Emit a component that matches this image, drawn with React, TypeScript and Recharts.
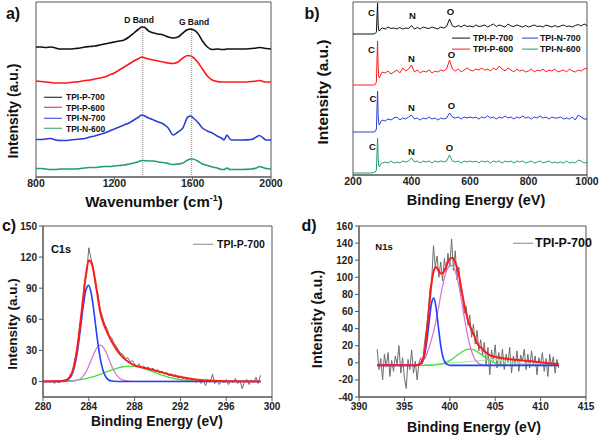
import React from 'react'
import { LineChart, Line, XAxis, YAxis, ReferenceArea, ReferenceLine } from 'recharts'

// ---- a) Raman ----
const ramanWavenumber = [800, 825, 850, 875, 900, 925, 950, 975, 1000, 1025, 1050, 1075, 1100, 1125, 1150, 1175, 1200, 1225, 1250, 1275, 1300, 1325, 1340, 1350, 1375, 1400, 1425, 1450, 1475, 1500, 1525, 1550, 1575, 1590, 1600, 1625, 1650, 1675, 1700, 1725, 1750, 1760, 1775, 1790, 1800, 1850, 1900, 1925, 1940, 1960, 1975, 2000]
const ramanP700 = [130, 130, 129.5, 130, 129, 128, 128, 128, 128.5, 129, 130, 130.5, 131, 132, 133, 134, 135, 136, 137, 140, 144, 148, 150, 150, 146, 144, 143, 142, 140, 139, 140, 144, 147.5, 148, 147.5, 144, 136, 130, 127.5, 128, 127.5, 127.5, 128, 128, 128, 128, 128.5, 129, 129.5, 129, 128.5, 128]
const ramanP600 = [96, 95.5, 95, 94.5, 94, 94, 94, 94.5, 95, 95.5, 96.5, 97, 98, 99, 100, 102, 104, 107, 110, 113, 116, 118.5, 120, 119.5, 118, 117, 116, 115, 114, 113.5, 115, 119, 121.5, 121, 120, 115, 108, 101, 97, 95.5, 95, 95, 95, 95, 95, 95, 95.5, 96, 96.5, 95.5, 95, 95]
const ramanN700 = [37.5, 37.5, 38, 38.5, 37, 36.5, 36.5, 37, 37.5, 38, 38.5, 40, 41, 42.5, 44, 46, 48, 50, 52, 54, 57, 60, 62, 61.5, 59, 57, 55, 53, 49, 42, 45, 49, 60, 61, 59.5, 55, 49, 46, 44, 41, 38.5, 37, 42, 38, 37, 37, 37.5, 40, 41.5, 39, 37, 37]
const ramanN600 = [8.5, 8.5, 8, 7.5, 7.5, 8, 8, 8, 8, 8.5, 9, 9.5, 9.5, 10, 10.5, 10.5, 11, 11.5, 12, 13, 14, 15.5, 16.5, 16.5, 16, 16, 15, 14.5, 13.5, 12.5, 13, 14, 17, 18, 18, 16, 13, 11.5, 10, 9, 7.5, 7.5, 9, 7.5, 7.5, 7.5, 8, 9, 10.5, 9.5, 8.5, 8]
const ramanTicks = [800, 1200, 1600, 2000]

// ---- b) XPS survey ----
const surveyEnergy = [200, 220, 240, 260, 270, 276, 280, 282, 284, 286, 288, 290, 295, 300,
  310, 320, 330, 340, 350, 360, 370, 380, 390, 400,
  410, 420, 430, 440, 450, 460, 470, 480, 490, 500,
  510, 520, 530, 540, 550, 560, 570, 580, 590, 600,
  610, 620, 630, 640, 650, 660, 670, 680, 690, 700,
  710, 720, 730, 740, 750, 760, 770, 780, 790, 800,
  810, 820, 830, 840, 850, 860, 870, 880, 890, 900,
  910, 920, 930, 940, 950, 960, 970, 980, 990, 1000]
const surveyP700 = [141, 141, 141, 141, 141, 141.5, 143, 158, 172, 150, 145, 144, 146, 147,
  146, 148, 146.5, 147, 146, 147.5, 146, 147, 146.5, 149.5,
  146, 147.5, 146, 148, 147, 146.5, 148, 147, 146, 148,
  147, 148.5, 156, 149, 148, 149.5, 148, 150, 148.5, 149,
  148, 150, 148.5, 149, 150, 148, 149.5, 151, 148.5, 150,
  149, 148, 151, 149, 148.5, 150, 149, 148, 149.5, 148,
  149, 150, 148.5, 149, 148, 150, 149, 148, 149.5, 148,
  149, 150, 148.5, 149, 148, 149.5, 150.5, 149, 151, 149.5]
const surveyP600 = [90, 90, 90, 90, 90, 90.5, 93, 115, 134, 108, 99, 97, 100, 103,
  102, 104, 101, 103, 105, 102, 107, 104, 106, 110,
  103, 105, 102, 104, 103, 105, 102, 104, 103, 105,
  104, 106, 115, 106, 104, 106, 103, 105, 107, 105,
  104, 106, 105, 107, 105, 106, 104, 107, 105, 109,
  106, 104, 107, 105, 103, 106, 104, 105, 103, 104,
  106, 103, 105, 104, 106, 103, 105, 104, 106, 103,
  104, 105, 103, 106, 104, 103, 105, 104, 106, 107]
const surveyN700 = [43, 43, 43, 43, 43, 43.5, 46, 66, 84, 60, 52, 50, 53, 55,
  54, 56, 55, 57, 58, 55, 57, 56, 58, 60,
  56, 57, 55, 57, 56, 58, 56, 57, 55, 57,
  56, 57, 62, 58, 57, 58, 56, 58, 57, 58,
  57, 58, 56, 58, 57, 59, 57, 58, 56, 58,
  57, 59, 57, 58, 56, 58, 57, 59, 57, 58,
  56, 58, 57, 59, 57, 58, 56, 58, 57, 57,
  58, 56, 57, 56, 58, 55, 60, 58, 56, 56]
const surveyN600 = [2, 2, 2, 2, 2.5, 3, 5, 22, 37, 16, 10, 8, 11, 12,
  13, 12, 14, 12, 13, 12, 14, 13, 14, 17,
  13, 14, 12, 14, 13, 14, 12, 14, 13, 14,
  13, 14, 20, 14, 13, 14, 12, 14, 13, 14,
  13, 14, 12, 14, 13, 14, 12, 14, 13, 14,
  12, 14, 13, 14, 12, 14, 13, 14, 12, 13,
  14, 12, 13, 14, 12, 13, 14, 12, 13, 12,
  13, 12, 14, 12, 13, 12, 15, 14, 12, 13]
const surveyTicks = [200, 400, 600, 800, 1000]

// ---- c) C1s ----
const c1sFitEnergy = [280, 281, 281.5, 282, 282.5, 282.75, 283, 283.25, 283.5, 283.75, 284, 284.25, 284.5, 284.75, 285, 285.25, 285.5, 285.75, 286, 286.5, 287, 287.5, 288, 288.5, 289, 290, 291, 292, 293, 294, 296, 299]
const c1sEnvelope = [0, 0.1, 0.3, 1.2, 7.5, 17, 33, 55, 80, 103, 117, 114, 101, 84, 67, 57, 50, 44, 38.5, 29.5, 23, 18.5, 15.5, 14, 12.8, 10, 6.8, 4.3, 2.4, 1.2, 0.3, 0]
const c1sPeak1 = [0, 0, 0, 0.7, 6.1, 14.3, 28.7, 49.2, 71.5, 88.3, 92.7, 82.7, 62.8, 40.5, 22.2, 10.3, 4.1, 1.4, 0.4, 0, 0, 0, 0, 0, 0, 0, 0, 0, 0, 0, 0, 0]
const c1sPeak2 = [0, 0, 0, 0, 0.2, 0.5, 1.2, 2.6, 5.2, 9.3, 15, 21.7, 28.3, 33.2, 35, 33.2, 28.3, 21.7, 15, 5.2, 1.2, 0.2, 0, 0, 0, 0, 0, 0, 0, 0, 0, 0]
const c1sPeak3 = [0, 0.1, 0.2, 0.4, 0.8, 1, 1.35, 1.75, 2.2, 2.8, 3.4, 4.2, 5, 5.9, 6.9, 7.9, 9, 10, 11.1, 12.9, 14.2, 14.8, 14.5, 13.5, 11.8, 7.7, 4, 1.65, 0.54, 0.14, 0, 0]
const c1sRawEnergy = [280.6, 280.8, 281.0, 281.2, 281.4, 281.6, 281.8, 282.0, 282.2, 282.4,
  282.6, 282.8, 283.0, 283.2, 283.4, 283.6, 283.8, 284.0, 284.2, 284.4,
  284.6, 284.8, 285.0, 285.2, 285.4, 285.6, 285.8, 286.0, 286.2, 286.4,
  286.6, 286.8, 287.0, 287.2, 287.4, 287.6, 287.8, 288.0, 288.2, 288.4,
  288.6, 288.8, 289.0, 289.2, 289.4, 289.6, 289.8, 290.0, 290.2, 290.4,
  290.6, 290.8, 291.0, 291.2, 291.4, 291.6, 291.8, 292.0, 292.2, 292.4,
  292.6, 292.8, 293.0, 293.2, 293.4, 293.6, 293.8, 294.0, 294.2, 294.4,
  294.6, 294.8, 295.0, 295.2, 295.4, 295.6, 295.8, 296.0, 296.2, 296.4,
  296.6, 296.8, 297.0, 297.2, 297.4, 297.6, 297.8, 298.0, 298.2, 298.4,
  298.6, 298.8, 299.0]
const c1sRaw = [-1, 1, -2, 0.5, -1.5, 1, -0.5, 2, 1.5, 7,
  9, 22, 31, 53, 67, 93, 103, 129, 118, 110,
  91, 84, 69, 62, 55, 51, 44, 42, 37, 34,
  30, 27, 26, 22, 23, 19, 20, 17, 14, 17,
  13, 15, 12, 14, 10.5, 13, 9.5, 11.5, 8, 10,
  7, 9, 5.5, 7.5, 4.5, 6.5, 3, 5.5, 2.5, 4,
  1, 3.5, 0.5, 2, -1, 1.5, -2, 0.5, -4, 2,
  -1, 7, -2, 0.5, -3, 1, -1.5, 2, -3, 0.5,
  -1, 3, -2, 1, -7, 0, 2, -3, 1.5, -1,
  4, -2, 6]
const c1sXTicks = [280, 284, 288, 292, 296, 300]
const c1sYTicks = [0, 30, 60, 90, 120, 150]

// ---- d) N1s ----
const n1sFitEnergy = [392, 394, 396, 396.5, 397, 397.25, 397.5, 397.75, 398, 398.25, 398.5, 398.75, 399, 399.25, 399.5, 399.75, 400, 400.25, 400.5, 400.75, 401, 401.25, 401.5, 401.75, 402, 402.25, 402.5, 402.75, 403, 403.5, 404, 404.5, 405, 405.5, 406, 407, 408, 409, 410, 411, 412]
const n1sEnvelope = [-3, -3, -3, -2.5, 3, 14, 40, 68, 94, 108, 112, 108, 104.5, 105, 110, 117, 121.5, 123, 120, 113, 103, 88, 73, 60, 50, 42, 36, 30, 23, 17, 12, 8.5, 7, 6, 5, 3.8, 2.8, 1.7, 0.5, -0.5, -1.5]
const n1sPeak1 = [-3, -3, -3, -2.7, 2, 10.9, 27.8, 50.6, 70.2, 75.8, 63.5, 41.2, 20.1, 6.5, 0.1, -2.2, -3, -3, -3, -3, -3, -3, -3, -3, -3, -3, -3, -3, -3, -3, -3, -3, -3, -3, -3, -3, -3, -3, -3, -3, -3]
const n1sPeak2 = [-3, -3, -3, -2, 1.5, 5, 11, 19, 28, 38, 50, 64, 79, 92, 103, 110, 114, 114, 110, 102, 90, 75, 59, 44, 30, 19, 10.5, 4.5, 1, -2, -3, -3, -3, -3, -3, -3, -3, -3, -3, -3, -3]
const n1sPeak3 = [-3, -3, -3, -3, -3, -3, -3, -2.9, -2.8, -2.7, -2.4, -2.1, -1.6, -0.9, 0, 1.1, 2.5, 4.2, 6.1, 8.2, 10.2, 12.1, 13.8, 15, 15.8, 16, 15.6, 14.6, 13.1, 9.3, 5.3, 1.9, -0.4, -1.8, -2.5, -3, -3, -3, -3, -3, -3]
const n1sPeak4 = [-3, -3, -2.8, -2.6, -2.4, -2.3, -2.2, -2, -1.9, -1.7, -1.5, -1.3, -1.1, -0.9, -0.7, -0.5, -0.3, 0, 0.2, 0.4, 0.6, 0.8, 1, 1.2, 1.4, 1.6, 1.8, 2, 2.3, 2.8, 3.4, 3.8, 3.6, 2.8, 1.6, 0, -0.8, -1.2, -1.4, -1.6, -1.8]
const n1sRawEnergy = [392.0, 392.2, 392.4, 392.6, 392.8, 393.0, 393.2, 393.4, 393.6, 393.8,
  394.0, 394.2, 394.4, 394.6, 394.8, 395.0, 395.2, 395.4, 395.6, 395.8,
  396.0, 396.2, 396.4, 396.6, 396.8, 397.0, 397.2, 397.4, 397.6, 397.8,
  398.0, 398.2, 398.4, 398.6, 398.8, 399.0, 399.2, 399.4, 399.6, 399.8,
  400.0, 400.2, 400.4, 400.6, 400.8, 401.0, 401.2, 401.4, 401.6, 401.8,
  402.0, 402.2, 402.4, 402.6, 402.8, 403.0, 403.2, 403.4, 403.6, 403.8,
  404.0, 404.2, 404.4, 404.6, 404.8, 405.0, 405.2, 405.4, 405.6, 405.8,
  406.0, 406.2, 406.4, 406.6, 406.8, 407.0, 407.2, 407.4, 407.6, 407.8,
  408.0, 408.2, 408.4, 408.6, 408.8, 409.0, 409.2, 409.4, 409.6, 409.8,
  410.0, 410.2, 410.4, 410.6, 410.8, 411.0, 411.2, 411.4, 411.6, 411.8,
  412.0]
const n1sRaw = [16, -8, 5, -20, 10, -5, 12, -16, 3, -10,
  8, -2, 20, -12, 6, -18, -30, 4, -8, 15,
  -12, 2, -20, 0, 6, -1, 22, 38, 55, 85,
  95, 137, 112, 125, 100, 118, 96, 122, 106, 128,
  112, 145, 108, 131, 97, 112, 78, 80, 58, 66,
  44, 56, 30, 45, 22, 38, 14, 27, 8, 24,
  -4, 18, -14, 15, 2, 21, -6, 12, -4, 16,
  -8, 10, 0, 18, -12, 8, -4, 14, -10, 9,
  2, 16, -8, 10, -6, 14, -3, 8, -14, 6,
  -2, 12, -10, 5, -16, 10, -4, 7, -12, 4,
  -6]
const n1sXTicks = [390, 395, 400, 405, 410, 415]
const n1sYTicks = [-40, -20, 0, 20, 40, 60, 80, 100, 120, 140, 160]

const FONT = 'Arial, "Liberation Sans", Helvetica, sans-serif'
const AXIS = '#555'
const C_BLACK = '#111111'
const C_RED = '#ff1a1a'
const C_BLUE = '#2a3fd6'
const C_GREEN = '#1f9e6e'
const C_RAW = '#6e6e6e'
const C_FIT_BLUE = '#2040ff'
const C_FIT_PINK = '#d77ad7'
const C_FIT_GREEN = '#3fe03f'
const C_FIT_LIGHT = '#a8f0a0'

const ramanRows = ramanWavenumber.map((x, i) => ({
  x, p700: ramanP700[i], p600: ramanP600[i], n700: ramanN700[i], n600: ramanN600[i],
}))
const surveyRows = surveyEnergy.map((x, i) => ({
  x, p700: surveyP700[i], p600: surveyP600[i], n700: surveyN700[i], n600: surveyN600[i],
}))
const pts = (xs: number[], ys: number[]) => xs.map((x, i) => ({ x, y: ys[i] }))

const tick = (size: number) => ({ fontSize: size, fontWeight: 'bold', fill: '#222', fontFamily: FONT })

function T({ x, y, s, r, left, children }: any) {
  return (
    <div
      style={{
        position: 'absolute', left: x, top: y, fontSize: s, fontWeight: 'bold', color: '#111',
        lineHeight: 1, whiteSpace: 'nowrap',
        transform: `translate(${left ? '0' : '-50%'}, -50%)${r ? ' rotate(-90deg)' : ''}`,
      }}
    >
      {children}
    </div>
  )
}

function Key({ x, y, w, color, thick, s, gap, label }: any) {
  return (
    <div
      style={{
        position: 'absolute', left: x, top: y, transform: 'translateY(-50%)', display: 'flex',
        alignItems: 'center', gap, fontSize: s, fontWeight: 'bold', lineHeight: 1, whiteSpace: 'nowrap', color: '#111',
      }}
    >
      <span style={{ display: 'inline-block', width: w, height: 0, borderTop: `${thick}px solid ${color}` }} />
      <span>{label}</span>
    </div>
  )
}

function Box({ left, top, children }: any) {
  return <div style={{ position: 'absolute', left, top }}>{children}</div>
}

export default function App() {
  return (
    <div style={{ position: 'absolute', left: 0, top: 0, width: 600, height: 437, background: '#fff', fontFamily: FONT, overflow: 'hidden' }}>
      {/* a) Raman */}
      <Box left={0} top={0}>
        <LineChart width={300} height={215} data={ramanRows} margin={{ top: 2, right: 29, left: 36, bottom: 8 }}>
          <XAxis dataKey="x" type="number" domain={[800, 2000]} ticks={ramanTicks} height={30} tickSize={3} tickMargin={0} tick={tick(10.5)} stroke={AXIS} />
          <YAxis hide domain={[0, 175]} />
          <ReferenceArea x1={800} x2={2000} y1={0} y2={175} fill="none" stroke={AXIS} />
          <ReferenceLine segment={[{ x: 1345, y: 0 }, { x: 1345, y: 150 }]} stroke="#888" strokeDasharray="1 1" />
          <ReferenceLine segment={[{ x: 1595, y: 0 }, { x: 1595, y: 149 }]} stroke="#888" strokeDasharray="1 1" />
          <Line dataKey="p700" type="monotone" stroke={C_BLACK} strokeWidth={1.6} dot={false} isAnimationActive={false} />
          <Line dataKey="p600" type="monotone" stroke={C_RED} strokeWidth={1.6} dot={false} isAnimationActive={false} />
          <Line dataKey="n700" type="monotone" stroke={C_BLUE} strokeWidth={1.6} dot={false} isAnimationActive={false} />
          <Line dataKey="n600" type="monotone" stroke={C_GREEN} strokeWidth={1.6} dot={false} isAnimationActive={false} />
        </LineChart>
      </Box>
      <T x={13} y={14} s={16}>a)</T>
      <T x={139} y={20} s={8.5}>D Band</T>
      <T x={194} y={22} s={8.5}>G Band</T>
      <Key x={44} y={97} w={18} color={C_BLACK} thick={1.6} s={8.5} gap={4} label="TPI-P-700" />
      <Key x={44} y={107.5} w={18} color={C_RED} thick={1.6} s={8.5} gap={4} label="TPI-P-600" />
      <Key x={44} y={118} w={18} color={C_BLUE} thick={1.6} s={8.5} gap={4} label="TPI-N-700" />
      <Key x={44} y={128.5} w={18} color={C_GREEN} thick={1.6} s={8.5} gap={4} label="TPI-N-600" />
      <T x={13} y={111} s={14} r>Intensity (a.u.)</T>
      <T x={154} y={201} s={15}>Wavenumber (cm<sup style={{ fontSize: 9 }}>-1</sup>)</T>

      {/* b) XPS survey */}
      <Box left={300} top={0}>
        <LineChart width={300} height={215} data={surveyRows} margin={{ top: 2, right: 13, left: 53, bottom: 10 }}>
          <XAxis dataKey="x" type="number" domain={[200, 1000]} ticks={surveyTicks} height={30} tickSize={3} tickMargin={0} tick={tick(10.5)} stroke={AXIS} />
          <YAxis hide domain={[0, 173]} />
          <ReferenceArea x1={200} x2={1000} y1={0} y2={173} fill="none" stroke={AXIS} />
          <Line dataKey="p700" type="linear" stroke={C_BLACK} strokeWidth={1} dot={false} isAnimationActive={false} />
          <Line dataKey="p600" type="linear" stroke={C_RED} strokeWidth={1} dot={false} isAnimationActive={false} />
          <Line dataKey="n700" type="linear" stroke={C_BLUE} strokeWidth={1} dot={false} isAnimationActive={false} />
          <Line dataKey="n600" type="linear" stroke={C_GREEN} strokeWidth={1} dot={false} isAnimationActive={false} />
        </LineChart>
      </Box>
      <T x={312} y={14} s={16}>b)</T>
      <T x={371.5} y={12.5} s={9.5}>C</T>
      <T x={412.5} y={16} s={9.5}>N</T>
      <T x={450.5} y={12} s={9.5}>O</T>
      <T x={371.5} y={50} s={9.5}>C</T>
      <T x={411.5} y={58.5} s={9.5}>N</T>
      <T x={451.5} y={55} s={9.5}>O</T>
      <T x={373} y={99} s={9.5}>C</T>
      <T x={411.5} y={108} s={9.5}>N</T>
      <T x={451.5} y={106} s={9.5}>O</T>
      <T x={372.5} y={146.5} s={9.5}>C</T>
      <T x={411.5} y={152} s={9.5}>N</T>
      <T x={449.5} y={147.5} s={9.5}>O</T>
      <Key x={452} y={38} w={18} color={C_BLACK} thick={1.5} s={8.8} gap={3} label="TPI-P-700" />
      <Key x={452} y={49} w={18} color={C_RED} thick={1.5} s={8.8} gap={3} label="TPI-P-600" />
      <Key x={522} y={38} w={16} color={C_BLUE} thick={1.5} s={8.8} gap={2} label="TPI-N-700" />
      <Key x={522} y={49} w={16} color={C_GREEN} thick={1.5} s={8.8} gap={2} label="TPI-N-600" />
      <T x={323} y={92} s={15.5} r>Intensity (a.u.)</T>
      <T x={476} y={200} s={14.5}>Binding Energy (eV)</T>

      {/* c) C1s */}
      <Box left={0} top={215}>
        <LineChart width={300} height={222} margin={{ top: 11, right: 28, left: 0, bottom: 10 }}>
          <XAxis dataKey="x" type="number" domain={[280, 300]} ticks={c1sXTicks} height={30} tickSize={4} tickMargin={2} tick={tick(10)} stroke={AXIS} allowDataOverflow />
          <YAxis type="number" domain={[-15, 150]} ticks={c1sYTicks} width={43} tickSize={4} tickMargin={2} tick={tick(10)} stroke={AXIS} allowDataOverflow />
          <ReferenceArea x1={280} x2={300} y1={-15} y2={150} fill="none" stroke={AXIS} />
          <Line data={pts(c1sRawEnergy, c1sRaw)} dataKey="y" type="linear" stroke={C_RAW} strokeWidth={1} dot={false} isAnimationActive={false} />
          <Line data={pts(c1sFitEnergy, c1sPeak3)} dataKey="y" type="monotone" stroke={C_FIT_GREEN} strokeWidth={1.3} dot={false} isAnimationActive={false} />
          <Line data={pts(c1sFitEnergy, c1sPeak2)} dataKey="y" type="monotone" stroke={C_FIT_PINK} strokeWidth={1.3} dot={false} isAnimationActive={false} />
          <Line data={pts(c1sFitEnergy, c1sPeak1)} dataKey="y" type="monotone" stroke={C_FIT_BLUE} strokeWidth={1.6} dot={false} isAnimationActive={false} />
          <Line data={pts(c1sFitEnergy, c1sEnvelope)} dataKey="y" type="monotone" stroke={C_RED} strokeWidth={2} dot={false} isAnimationActive={false} />
        </LineChart>
      </Box>
      <T x={9} y={226} s={16}>c)</T>
      <T x={61} y={249} s={11}>C1s</T>
      <Key x={193} y={244} w={20} color="#888" thick={1.5} s={10.5} gap={4} label="TPI-P-700" />
      <T x={13} y={324} s={13.5} r>Intensity (a.u.)</T>
      <T x={157} y={422} s={13.8}>Binding Energy (eV)</T>

      {/* d) N1s */}
      <Box left={300} top={215}>
        <LineChart width={300} height={222} margin={{ top: 11, right: 14, left: 0, bottom: 10 }}>
          <XAxis dataKey="x" type="number" domain={[390, 415]} ticks={n1sXTicks} height={30} tickSize={4} tickMargin={2} tick={tick(10)} stroke={AXIS} allowDataOverflow />
          <YAxis type="number" domain={[-40, 160]} ticks={n1sYTicks} width={59} tickSize={4} tickMargin={2} tick={tick(10)} stroke={AXIS} allowDataOverflow />
          <ReferenceArea x1={390} x2={415} y1={-40} y2={160} fill="none" stroke={AXIS} />
          <Line data={pts(n1sRawEnergy, n1sRaw)} dataKey="y" type="linear" stroke={C_RAW} strokeWidth={1} dot={false} isAnimationActive={false} />
          <Line data={pts(n1sFitEnergy, n1sPeak4)} dataKey="y" type="monotone" stroke={C_FIT_LIGHT} strokeWidth={1.2} dot={false} isAnimationActive={false} />
          <Line data={pts(n1sFitEnergy, n1sPeak3)} dataKey="y" type="monotone" stroke={C_FIT_GREEN} strokeWidth={1.3} dot={false} isAnimationActive={false} />
          <Line data={pts(n1sFitEnergy, n1sPeak2)} dataKey="y" type="monotone" stroke={C_FIT_PINK} strokeWidth={1.3} dot={false} isAnimationActive={false} />
          <Line data={pts(n1sFitEnergy, n1sPeak1)} dataKey="y" type="monotone" stroke={C_FIT_BLUE} strokeWidth={1.6} dot={false} isAnimationActive={false} />
          <Line data={pts(n1sFitEnergy, n1sEnvelope)} dataKey="y" type="monotone" stroke={C_RED} strokeWidth={2} dot={false} isAnimationActive={false} />
        </LineChart>
      </Box>
      <T x={309} y={226} s={16}>d)</T>
      <T x={384} y={247} s={9.5}>N1s</T>
      <Key x={513} y={243} w={20} color="#888" thick={1.5} s={12.5} gap={2} label="TPI-P-700" />
      <T x={317} y={319} s={14.5} r>Intensity (a.u.)</T>
      <T x={474} y={427} s={14}>Binding Energy (eV)</T>
    </div>
  )
}
